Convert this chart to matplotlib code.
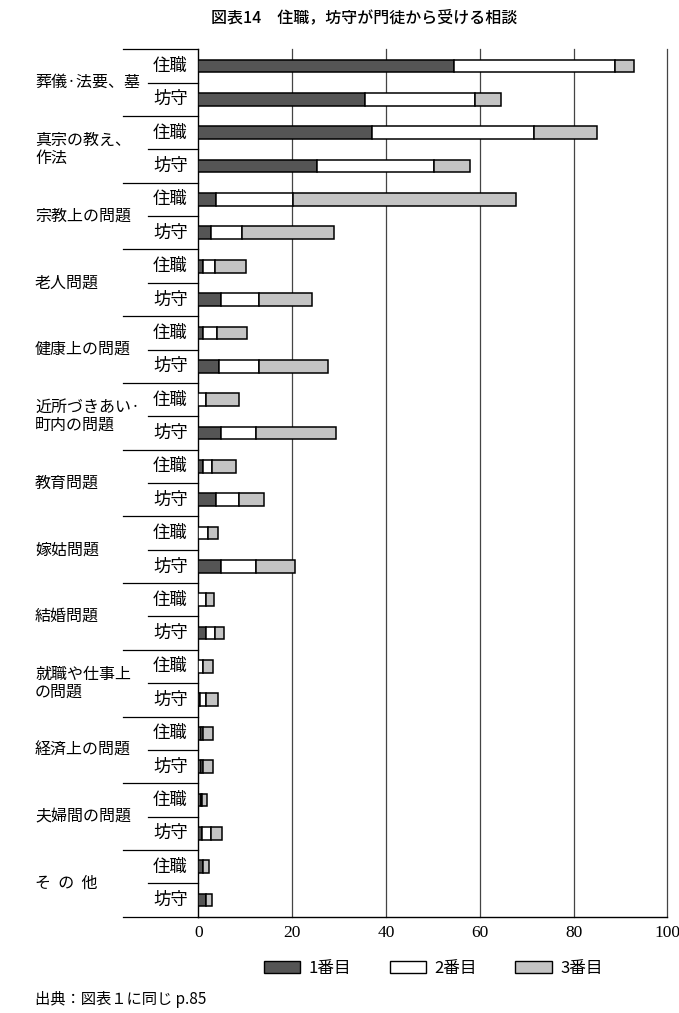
import matplotlib
matplotlib.use("Agg")
import matplotlib.pyplot as plt
import matplotlib.transforms as mtransforms
from matplotlib.patches import Patch
import numpy as np

plt.rcParams['font.family'] = ['Noto Sans CJK JP', 'DejaVu Sans']

# 相談の種類 (上から順に)
categories = ["葬儀·法要、墓", "真宗の教え、\n作法", "宗教上の問題", "老人問題",
              "健康上の問題", "近所づきあい·\n町内の問題", "教育問題", "嫁姑問題",
              "結婚問題", "就職や仕事上\nの問題", "経済上の問題", "夫婦間の問題", "そ  の  他"]
roles = ["住職", "坊守"]

# 各行 = (住職, 坊守) の順
first = [54.5, 35.6, 37.1, 25.2, 3.7, 2.7, 0.9, 4.8, 1.0, 4.4, 0.0, 4.9, 1.0,
         3.7, 0.0, 4.7, 0.0, 1.5, 0.0, 0.3, 0.5, 0.5, 0.5, 0.7, 1.0, 1.6]
second = [34.3, 23.4, 34.4, 25.0, 16.5, 6.5, 2.6, 8.2, 3.0, 8.6, 1.5, 7.3, 1.9,
          4.9, 2.0, 7.6, 1.6, 2.0, 1.0, 1.4, 0.5, 0.5, 0.3, 2.0, 0.0, 0.0]
third = [4.1, 5.5, 13.5, 7.7, 47.4, 19.8, 6.6, 11.3, 6.4, 14.7, 7.1, 17.1, 5.0,
         5.4, 2.1, 8.3, 1.8, 2.0, 2.0, 2.5, 2.0, 2.0, 1.0, 2.4, 1.2, 1.2]

series_names = ["1番目", "2番目", "3番目"]
colors = ["#555555", "white", "#c4c4c4"]
xticks = [0, 20, 40, 60, 80, 100]

fig = plt.figure(figsize=(6.79, 10.13), dpi=100)
ax = fig.add_axes([0.2923, 0.0951, 0.6907, 0.8562])

n = len(first)
y = np.arange(n) + 0.5
left = np.zeros(n)
for vals, c in zip([first, second, third], colors):
    ax.barh(y, vals, left=left, height=0.38, color=c, edgecolor="black", linewidth=1.1, zorder=3)
    left += np.array(vals)

ax.set_xlim(0, 100)
ax.set_ylim(n, 0)
ax.set_yticks([])
ax.set_xticks(xticks)
ax.set_xticklabels([str(t) for t in xticks], family="Liberation Serif", fontsize=12.5)
ax.tick_params(axis="x", length=0, pad=6)
for t in xticks[1:]:
    ax.axvline(t, color="#444444", linewidth=0.9, zorder=1, clip_on=False)
for s in ["top", "right"]:
    ax.spines[s].set_visible(False)
ax.spines["left"].set_linewidth(1.0)
ax.spines["bottom"].set_linewidth(1.0)

trans = mtransforms.blended_transform_factory(ax.transAxes, ax.transData)
# group separators and sub-row separators
for g in range(len(categories) + 1):
    ax.plot([-0.161, 0], [2 * g, 2 * g], transform=trans, color="black", linewidth=0.9, clip_on=False)
for g in range(len(categories)):
    ax.plot([-0.108, 0], [2 * g + 1, 2 * g + 1], transform=trans, color="black", linewidth=0.9, clip_on=False)
    ax.text(-0.3486, 2 * g + 1, categories[g], transform=trans, ha="left", va="center",
            fontsize=11.5, linespacing=1.05)
    for k, r in enumerate(roles):
        ax.text(-0.06, 2 * g + k + 0.5, r, transform=trans, ha="center", va="center", fontsize=12.5)

fig.text(0.537, 0.982, "図表14　住職，坊守が門徒から受ける相談", ha="center", va="center",
         fontsize=11.5, fontweight="medium")

handles = [Patch(facecolor=c, edgecolor="black", linewidth=1.0) for c in colors]
fig.legend(handles, series_names, loc="center", bbox_to_anchor=(0.638, 0.0444), ncol=3,
           frameon=False, fontsize=12, handlelength=2.2, handleheight=0.75,
           handletextpad=0.5, columnspacing=2.3)

fig.text(0.0515, 0.013, "出典：図表１に同じ p.85", ha="left", va="center", fontsize=11)

fig.savefig("out.png", dpi=100)
